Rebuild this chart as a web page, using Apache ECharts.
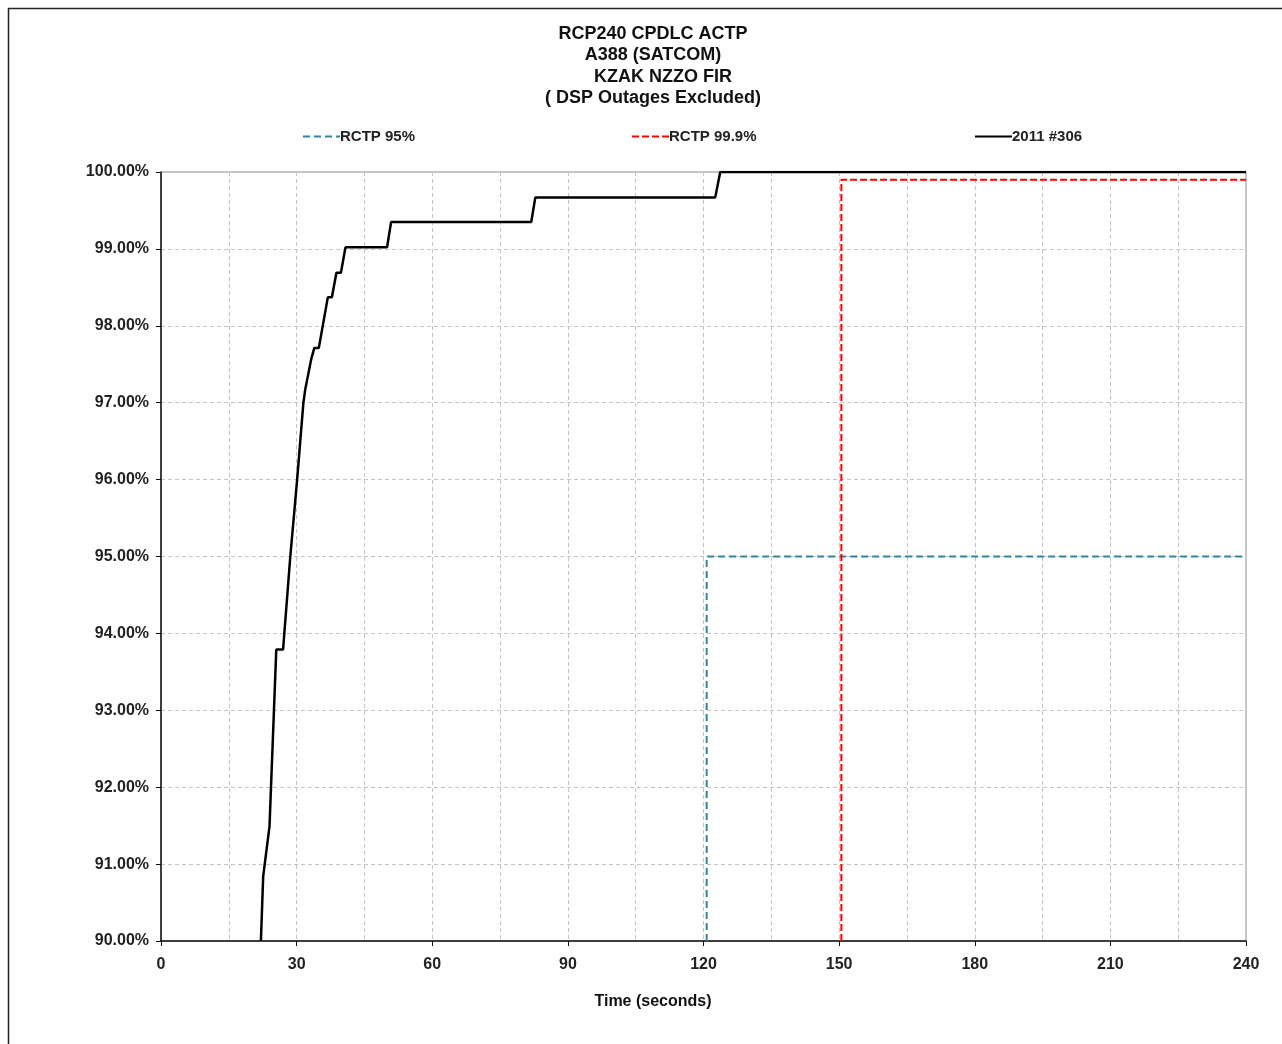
<!DOCTYPE html>
<html>
<head>
<meta charset="utf-8">
<script src="https://cdn.jsdelivr.net/npm/echarts@6/dist/echarts.min.js"></script>
<style>
html,body{margin:0;padding:0;background:#fff;}
#chart{width:1282px;height:1044px;}
</style>
</head>
<body>
<div id="chart"></div>
<script>
// ---- data ----
var titleLines = ['RCP240 CPDLC ACTP', 'A388 (SATCOM)', '    KZAK NZZO FIR', '( DSP Outages Excluded)'];
var seriesNames = ['RCTP 95%', 'RCTP 99.9%', '2011 #306'];
var actpTime = [22.1, 22.6, 24.0, 25.5, 27.0, 28.6, 30.1, 31.5, 31.9, 33.2, 33.9, 34.9, 36.9, 37.8, 38.8, 39.8, 40.8, 50.0, 50.9, 81.9, 82.8, 122.6, 123.7, 240];
var actpPct  = [90.0, 90.84, 91.49, 93.79, 93.79, 95.0, 95.99, 97.0, 97.17, 97.56, 97.71, 97.71, 98.37, 98.37, 98.69, 98.69, 99.02, 99.02, 99.35, 99.35, 99.67, 99.67, 100, 100];
var rctp95Time = [120.7, 120.7, 240];
var rctp95Pct  = [90, 95, 95];
var rctp999Time = [150.5, 150.5, 240];
var rctp999Pct  = [90, 99.9, 99.9];
var xTicks = [0, 30, 60, 90, 120, 150, 180, 210, 240];
var yTicks = [90, 91, 92, 93, 94, 95, 96, 97, 98, 99, 100];

function zip(a, b) { return a.map(function (v, i) { return [v, b[i]]; }); }

var FONT = '"Liberation Sans", Arial, sans-serif';
var chart = echarts.init(document.getElementById('chart'), null, {renderer: 'canvas'});

var titleGraphics = titleLines.map(function (t, i) {
  return {
    type: 'text', x: 653, y: 34 + i * 21.5,
    style: {text: t, x: 0, y: 0, fill: '#111', font: 'bold 18px ' + FONT, textAlign: 'center', textVerticalAlign: 'middle'}
  };
});

var legendLefts = [297, 626, 969];
var legends = seriesNames.map(function (n, i) {
  return {
    data: [n], left: legendLefts[i], top: 124, itemWidth: 37, itemHeight: 14, itemGap: 0,
    itemStyle: {opacity: 0},
    textStyle: {fontFamily: FONT, fontSize: 15, fontWeight: 'bold', color: '#222', padding: [0, 0, 0, -5]}
  };
});

chart.setOption({
  backgroundColor: '#fff',
  animation: false,
  legend: legends,
  graphic: titleGraphics.concat([
    {type: 'text', x: 653, y: 1002, style: {text: 'Time (seconds)', fill: '#111', font: 'bold 16px ' + FONT, textAlign: 'center', textVerticalAlign: 'middle'}},
    {type: 'rect', shape: {x: 8.5, y: 8.5, width: 1300, height: 1100}, style: {fill: 'none', stroke: '#222', lineWidth: 1.5}, silent: true}
  ]),
  grid: {left: 161, right: 36, top: 172, bottom: 103, show: true, borderColor: '#8c8c8c', borderWidth: 1, backgroundColor: 'transparent'},
  xAxis: {
    type: 'value', min: xTicks[0], max: xTicks[xTicks.length - 1], interval: 30,
    axisLine: {show: true, lineStyle: {color: '#111', width: 1.5}},
    axisTick: {show: true, length: 5, lineStyle: {color: '#111'}},
    axisLabel: {fontFamily: FONT, fontSize: 16, fontWeight: 'bold', color: '#222', margin: 16},
    splitLine: {show: true, lineStyle: {color: '#c4c4c4', type: [4, 3]}},
    minorTick: {show: false, splitNumber: 2},
    minorSplitLine: {show: true, lineStyle: {color: '#c4c4c4', type: [4, 3]}}
  },
  yAxis: {
    type: 'value', min: yTicks[0], max: yTicks[yTicks.length - 1], interval: 1,
    axisLine: {show: true, lineStyle: {color: '#111', width: 1.5}},
    axisTick: {show: true, length: 5, lineStyle: {color: '#111'}},
    axisLabel: {fontFamily: FONT, fontSize: 16, fontWeight: 'bold', color: '#222', margin: 12,
      formatter: function (v) { return v.toFixed(2) + '%'; }},
    splitLine: {show: true, lineStyle: {color: '#c4c4c4', type: [4, 3]}}
  },
  series: [
    {name: seriesNames[0], type: 'line', symbol: 'none', data: zip(rctp95Time, rctp95Pct),
     lineStyle: {color: '#31859c', width: 2, type: [7, 4]}, itemStyle: {color: '#31859c'}, z: 3},
    {name: seriesNames[1], type: 'line', symbol: 'none', data: zip(rctp999Time, rctp999Pct),
     lineStyle: {color: '#ff0000', width: 2, type: [7, 3]}, itemStyle: {color: '#ff0000'}, z: 3},
    {name: seriesNames[2], type: 'line', symbol: 'none', data: zip(actpTime, actpPct),
     lineStyle: {color: '#000', width: 2.5}, itemStyle: {color: '#000'}, z: 4}
  ]
});
</script>
</body>
</html>
